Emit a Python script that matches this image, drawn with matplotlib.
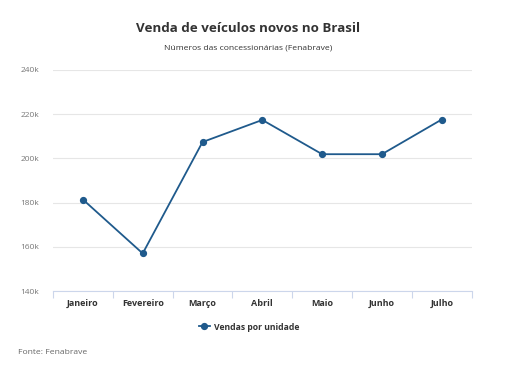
import numpy as np
import matplotlib.pyplot as plt
from matplotlib.ticker import FixedLocator, FuncFormatter

plt.rcParams['font.family'] = ['Open Sans', 'DejaVu Sans']

months = ['Janeiro', 'Fevereiro', 'Março', 'Abril', 'Maio', 'Junho', 'Julho']
vendas = [181400, 157000, 207400, 217400, 201900, 201900, 217600]
y_ticks = [140000, 160000, 180000, 200000, 220000, 240000]

line_color = '#1f5a8c'
axis_color = '#ccd6eb'

fig = plt.figure(figsize=(5.11, 3.8), dpi=100)
ax = fig.add_axes([0.1037, 0.2342, 0.8193, 0.5816])

x = np.arange(len(months))
ax.plot(x, vendas, color=line_color, linewidth=1.3, marker='o', markersize=4.2,
        label='Vendas por unidade', zorder=3)

ax.set_xlim(-0.5, len(months) - 0.5)
ax.set_ylim(y_ticks[0], y_ticks[-1])
ax.set_yticks(y_ticks)
ax.yaxis.set_major_formatter(FuncFormatter(lambda v, p: f'{int(v / 1000)}k'))
ax.grid(axis='y', color='#e6e6e6', linewidth=0.8)
ax.set_axisbelow(True)

ax.set_xticks(x)
ax.set_xticklabels(months, fontsize=6.5, fontweight='bold', color='#333333')
ax.xaxis.set_minor_locator(FixedLocator(np.arange(-0.5, len(months), 1.0)))
ax.tick_params(axis='x', which='major', length=0, pad=6)
ax.tick_params(axis='x', which='minor', length=5, color=axis_color, width=0.8)
ax.tick_params(axis='y', length=0, labelsize=6, labelcolor='#777777', pad=10)

for s in ['top', 'right', 'left']:
    ax.spines[s].set_visible(False)
ax.spines['bottom'].set_color(axis_color)
ax.spines['bottom'].set_linewidth(0.8)

fig.text(248 / 511, 1 - 28 / 380, 'Venda de veículos novos no Brasil', ha='center', va='center',
         fontsize=9.6, fontweight='bold', color='#333333')
fig.text(248 / 511, 1 - 48 / 380, 'Números das concessionárias (Fenabrave)', ha='center', va='center',
         fontsize=6.1, color='#333333')

leg = fig.legend(loc='center', bbox_to_anchor=(249 / 511, 1 - 327 / 380), frameon=False,
                 prop={'size': 6.2, 'weight': 'bold'}, handlelength=1.3, handletextpad=0.5)
for t in leg.get_texts():
    t.set_color('#333333')

fig.text(18 / 511, 1 - 353 / 380, 'Fonte: Fenabrave', ha='left', va='center',
         fontsize=6.1, color='#666666')

fig.savefig('out.png', dpi=100, facecolor='white')
